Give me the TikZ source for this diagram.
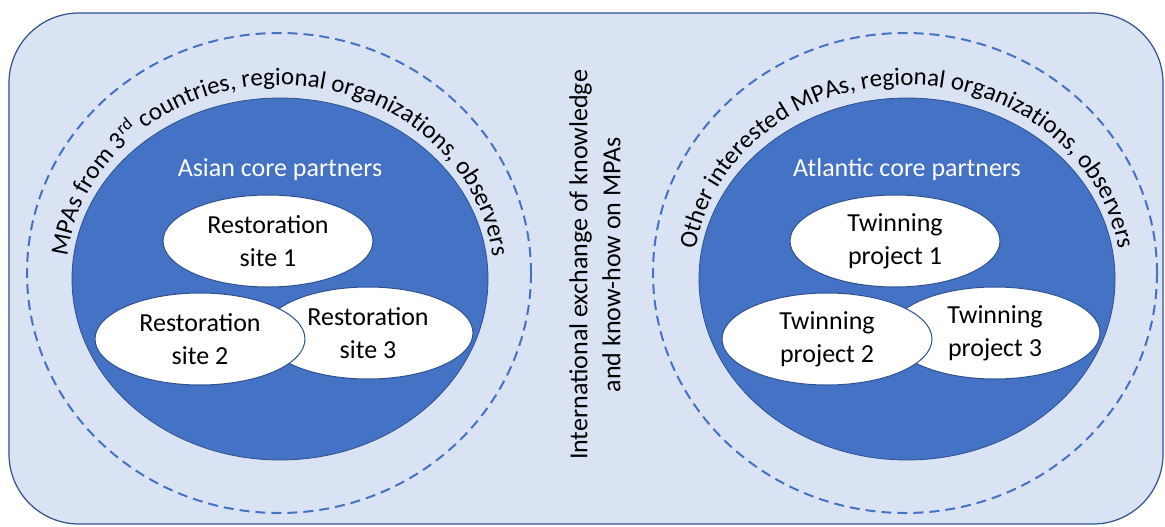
\documentclass[tikz,border=0pt]{standalone}
\usepackage{fontspec}
\setmainfont{Carlito}
\usetikzlibrary{shapes.geometric,decorations.text}

\definecolor{fondo}{HTML}{DAE3F3}
\definecolor{azul}{HTML}{4472C4}
\definecolor{borde}{HTML}{2F528F}

\begin{document}
\begin{tikzpicture}[
  x=0.5pt, y=0.5pt,
  font=\fontsize{13}{16.5}\selectfont,
  ring/.style={ellipse, draw=azul, line width=1pt, dash pattern=on 5pt off 3pt, inner sep=0pt, outer sep=0pt, minimum width=252pt, minimum height=240pt},
  core/.style={ellipse, fill=azul, draw=borde, line width=0.4pt, inner sep=0pt, outer sep=0pt, minimum width=208pt, minimum height=181pt},
  site/.style={ellipse, fill=white, draw=borde, line width=0.5pt, inner sep=0pt, outer sep=0pt, minimum width=105pt, minimum height=46pt, align=center},
  title/.style={text=white}
]

  % Marco exterior
  \useasboundingbox (0,0) rectangle (1165,526);
  \draw[borde, fill=fondo, line width=0.6pt, rounded corners=35pt] (9,2) rectangle (1163,513);

  % Anillos discontinuos y núcleos
  \node[ring] (anilloA) at (279,253) {};
  \node[ring] (anilloB) at (905,253) {};
  \node[core] (asia) at (280,247) {};
  \node[core] (atlantico) at (907,247) {};

  % Títulos de los núcleos
  \node[title] (tituloA) at (280,356) {Asian core partners};
  \node[title] (tituloB) at (907,356) {Atlantic core partners};

  % Sitios de restauración (el 2 queda encima del 3)
  \node[site] (sitio1) at (268,285) {Restoration\\site 1};
  \node[site] (sitio3) at (368,193) {Restoration\\site 3};
  \node[site] (sitio2) at (200,187) {Restoration\\site 2};

  % Proyectos de hermanamiento
  \node[site] (proy1) at (895,285) {Twinning\\project 1};
  \node[site] (proy3) at (995,193) {Twinning\\project 3};
  \node[site] (proy2) at (827,187) {Twinning\\project 2};

  % Textos curvos entre núcleo y anillo
  \path[decorate, decoration={text along path, text align=center,
      text={|\fontsize{12.5}{16}\selectfont|MPAs from 3{\textsuperscript{rd}} countries, regional organizations, observers}}]
    (280,247) ++(186:214 and 194) arc[start angle=186, end angle=-6, x radius=214, y radius=194];
  \path[decorate, decoration={text along path, text align=center,
      text={|\fontsize{12.5}{16}\selectfont|Other interested MPAs, regional organizations, observers}}]
    (907,247) ++(186:214 and 194) arc[start angle=186, end angle=-6, x radius=214, y radius=194];

  % Texto central vertical
  \node[rotate=90, align=center] (intercambio) at (595,261) {International exchange of knowledge\\and know-how on MPAs};

\end{tikzpicture}
\end{document}
